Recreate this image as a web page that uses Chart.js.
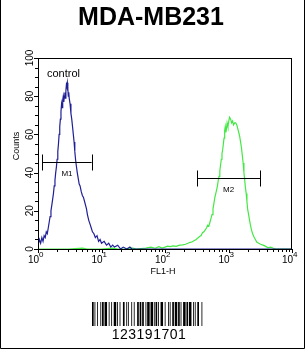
<!DOCTYPE html>
<html>
<head>
<meta charset="utf-8">
<script src="https://cdn.jsdelivr.net/npm/chart.js@4/dist/chart.umd.min.js"></script>
<style>
  html, body { margin: 0; padding: 0; background: #fff; }
  #wrap { width: 306px; height: 349px; }
</style>
</head>
<body>
<div id="wrap"><canvas id="myChart" width="306" height="349"></canvas></div>
<script>
// control histogram (blue), FL1-H value vs counts
var controlX = [1.0, 1.05, 1.1, 1.15, 1.2, 1.25, 1.3, 1.35, 1.4, 1.45, 1.5, 1.55, 1.6, 1.65, 1.7, 1.75, 1.8, 1.85, 1.9, 1.95,
  2.0, 2.05, 2.1, 2.15, 2.2, 2.25, 2.3, 2.35, 2.4, 2.45, 2.5, 2.55, 2.6, 2.65, 2.7, 2.75, 2.8, 2.85, 2.9, 2.95,
  3.0, 3.05, 3.1, 3.2, 3.3, 3.4, 3.5, 3.6, 3.7, 3.8, 3.9, 4.0, 4.15, 4.3, 4.45, 4.6, 4.8, 5.0, 5.2, 5.4,
  5.6, 5.8, 6.0, 6.3, 6.6, 6.9, 7.2, 7.6, 8.0, 8.5, 9.0, 9.5, 10, 11, 12, 13, 14, 15, 16, 18,
  20, 22, 25, 28, 30, 40, 100, 1000, 10000];
var controlY = [2, 5, 3, 6, 4, 7, 6, 9, 8, 11, 14, 17, 20, 23, 26, 29, 33, 36, 40, 43,
  47, 51, 55, 60, 64, 68, 72, 76, 74, 78, 80, 77, 80, 82, 79, 83, 86, 85, 87, 84,
  80, 82, 79, 76, 71, 68, 64, 60, 56, 51, 47, 44, 40, 37, 34, 33, 30, 28, 27, 25,
  23, 21, 18, 15, 13, 11, 9, 8, 6, 7, 4, 5, 3, 4, 2, 3, 1, 2, 1, 2,
  0, 1, 0, 1, 0, 0, 0, 0, 0];

// MDA-MB231 histogram (green)
var sampleX = [1, 3, 5, 6, 8, 10, 15, 18, 25, 30, 35, 50, 60, 70, 80, 90, 100, 110, 120, 135,
  150, 170, 190, 210, 230, 250, 270, 290, 310, 330, 350, 370, 390, 410, 430, 450, 470, 490, 510, 530,
  550, 570, 590, 610, 630, 650, 670, 690, 710, 730, 750, 770, 790, 810, 830, 850, 870, 890, 910, 930,
  950, 980, 1010, 1040, 1080, 1120, 1160, 1200, 1250, 1300, 1350, 1400, 1450, 1500, 1550, 1600, 1650, 1700, 1750, 1800,
  1850, 1900, 1950, 2000, 2100, 2200, 2300, 2400, 2500, 2650, 2800, 3000, 3200, 3500, 3800, 4200, 4600, 5000, 5500, 10000];
var sampleY = [0, 0, 0.5, 0, 0, 0, 0.5, 0, 0, 0.6, 0, 0.5, 1, 0.4, 1.2, 0.5, 1, 1.5, 1.2, 1.6,
  1.4, 2, 2.2, 2.5, 3, 3.5, 3.8, 4.5, 5, 5.8, 6.5, 7, 8.5, 9, 10, 11, 12.5, 12, 14, 16,
  18, 21, 24, 27, 29, 31, 33, 36, 38, 41, 44, 47, 50, 52, 55, 58, 62, 64, 61, 63,
  66, 64, 67, 69, 68, 66, 67, 65, 66, 66, 65, 63, 61, 59, 56, 53, 49, 45, 40, 36,
  32, 29, 25, 21, 17, 13, 10, 8, 6.5, 5, 3.5, 3, 2.5, 2, 1.5, 0.6, 1, 0.5, 0, 0];

// axis ticks
var yTicks = [0, 20, 40, 60, 80, 100];
var yMinorStep = 5;
var xDecades = [0, 1, 2, 3, 4];

// markers
var markerNames = ["M1", "M2"];
var markerStart = [1.17, 323];
var markerEnd = [7.0, 3133];
var markerLevel = [45.7, 37.3];

var blue = "#1f1f96";
var green = "#44e844";
var font = "'Liberation Sans', Arial, sans-serif";

var overlay = {
  id: "overlay",
  afterDraw: function (chart) {
    var ctx = chart.ctx;
    var xs = chart.scales.x, ys = chart.scales.y;
    var a = chart.chartArea;
    ctx.save();
    ctx.strokeStyle = "#000";
    ctx.fillStyle = "#000";
    ctx.lineWidth = 1;

    // outer frame of the picture
    ctx.beginPath();
    ctx.moveTo(0.5, 0); ctx.lineTo(0.5, 348.5); ctx.lineTo(304.5, 348.5); ctx.lineTo(304.5, 0);
    ctx.stroke();

    // title
    ctx.font = "bold 25px " + font;
    ctx.textAlign = "center";
    ctx.textBaseline = "alphabetic";
    ctx.fillText("MDA-MB231", 151, 25);

    // plot box
    ctx.strokeRect(Math.round(a.left) + 0.5, Math.round(a.top) + 0.5,
      Math.round(a.right - a.left) - 1, Math.round(a.bottom - a.top));

    // y ticks
    ctx.beginPath();
    for (var v = 0; v <= 100; v += yMinorStep) {
      var py = Math.round(ys.getPixelForValue(v)) + 0.5;
      var len = (yTicks.indexOf(v) >= 0) ? 4 : 3;
      ctx.moveTo(a.left, py); ctx.lineTo(a.left - len, py);
    }
    ctx.stroke();
    ctx.font = "10px " + font;
    ctx.textAlign = "center";
    ctx.textBaseline = "middle";
    yTicks.forEach(function (t) {
      ctx.save();
      ctx.translate(30.5, ys.getPixelForValue(t));
      ctx.rotate(-Math.PI / 2);
      ctx.fillText(String(t), 0, 0);
      ctx.restore();
    });
    ctx.save();
    ctx.font = "9px " + font;
    ctx.translate(16.5, 146);
    ctx.rotate(-Math.PI / 2);
    ctx.fillText("Counts", 0, 0);
    ctx.restore();

    // x ticks (log)
    ctx.beginPath();
    xDecades.forEach(function (d) {
      for (var m = 1; m <= 9; m++) {
        if (d === 4 && m > 1) break;
        var px = Math.round(xs.getPixelForValue(m * Math.pow(10, d))) + 0.5;
        var len = m === 1 ? 4 : 3;
        ctx.moveTo(px, a.bottom); ctx.lineTo(px, a.bottom + len);
      }
    });
    ctx.stroke();
    xDecades.forEach(function (d) {
      var px = xs.getPixelForValue(Math.pow(10, d));
      ctx.font = "10px " + font;
      ctx.textAlign = "right";
      ctx.textBaseline = "alphabetic";
      ctx.fillText("10", px + 1, 263);
      ctx.font = "8px " + font;
      ctx.textAlign = "left";
      ctx.fillText(String(d), px + 1, 257);
    });
    ctx.font = "9px " + font;
    ctx.textAlign = "center";
    ctx.fillText("FL1-H", 163, 274);

    // control label
    ctx.font = "11px " + font;
    ctx.textAlign = "left";
    ctx.textBaseline = "middle";
    ctx.fillText("control", 47, 74);

    // markers
    markerNames.forEach(function (name, i) {
      var x1 = xs.getPixelForValue(markerStart[i]);
      var x2 = xs.getPixelForValue(markerEnd[i]);
      var py = Math.round(ys.getPixelForValue(markerLevel[i])) + 0.5;
      ctx.beginPath();
      ctx.moveTo(x1, py); ctx.lineTo(x2, py);
      ctx.moveTo(Math.round(x1) + 0.5, py - 8); ctx.lineTo(Math.round(x1) + 0.5, py + 8);
      ctx.moveTo(Math.round(x2) + 0.5, py - 8); ctx.lineTo(Math.round(x2) + 0.5, py + 8);
      ctx.stroke();
      var mid = Math.sqrt(markerStart[i] * markerEnd[i]);
      ctx.font = "8px " + font;
      ctx.textAlign = "center";
      ctx.fillText(name, xs.getPixelForValue(mid), py + 11);
    });

    // barcode
    var bars = "21121311213212123112132211131213212122113131112112321311122131211231213211122312";
    var total = 0;
    for (var k = 0; k < bars.length; k++) total += +bars[k];
    var unit = 112 / total;
    var bx = 92;
    for (var k = 0; k < bars.length; k++) {
      var w = +bars[k] * unit;
      if (k % 2 === 0) ctx.fillRect(bx, 302, w, 24);
      bx += w;
    }
    ctx.font = "14px " + font;
    ctx.textAlign = "center";
    ctx.textBaseline = "alphabetic";
    ctx.letterSpacing = "0.5px";
    ctx.fillText("123191701", 149, 339);
    ctx.restore();
  }
};

new Chart("myChart", {
  type: "line",
  data: {
    datasets: [{
      data: controlX.map(function (x, i) { return { x: x, y: controlY[i] }; }),
      borderColor: blue,
      borderWidth: 1.2,
      pointRadius: 0,
      fill: false,
      tension: 0
    }, {
      data: sampleX.map(function (x, i) { return { x: x, y: sampleY[i] }; }),
      borderColor: green,
      borderWidth: 1.2,
      pointRadius: 0,
      fill: false,
      tension: 0
    }]
  },
  options: {
    responsive: false,
    animation: false,
    layout: { padding: { left: 38, top: 58, right: 14, bottom: 100 } },
    scales: {
      x: { type: "logarithmic", min: 1, max: 10000, display: false },
      y: { type: "linear", min: 0, max: 100, display: false }
    },
    plugins: {
      legend: { display: false },
      title: { display: false },
      tooltip: { enabled: false }
    }
  },
  plugins: [overlay]
});
</script>
</body>
</html>
